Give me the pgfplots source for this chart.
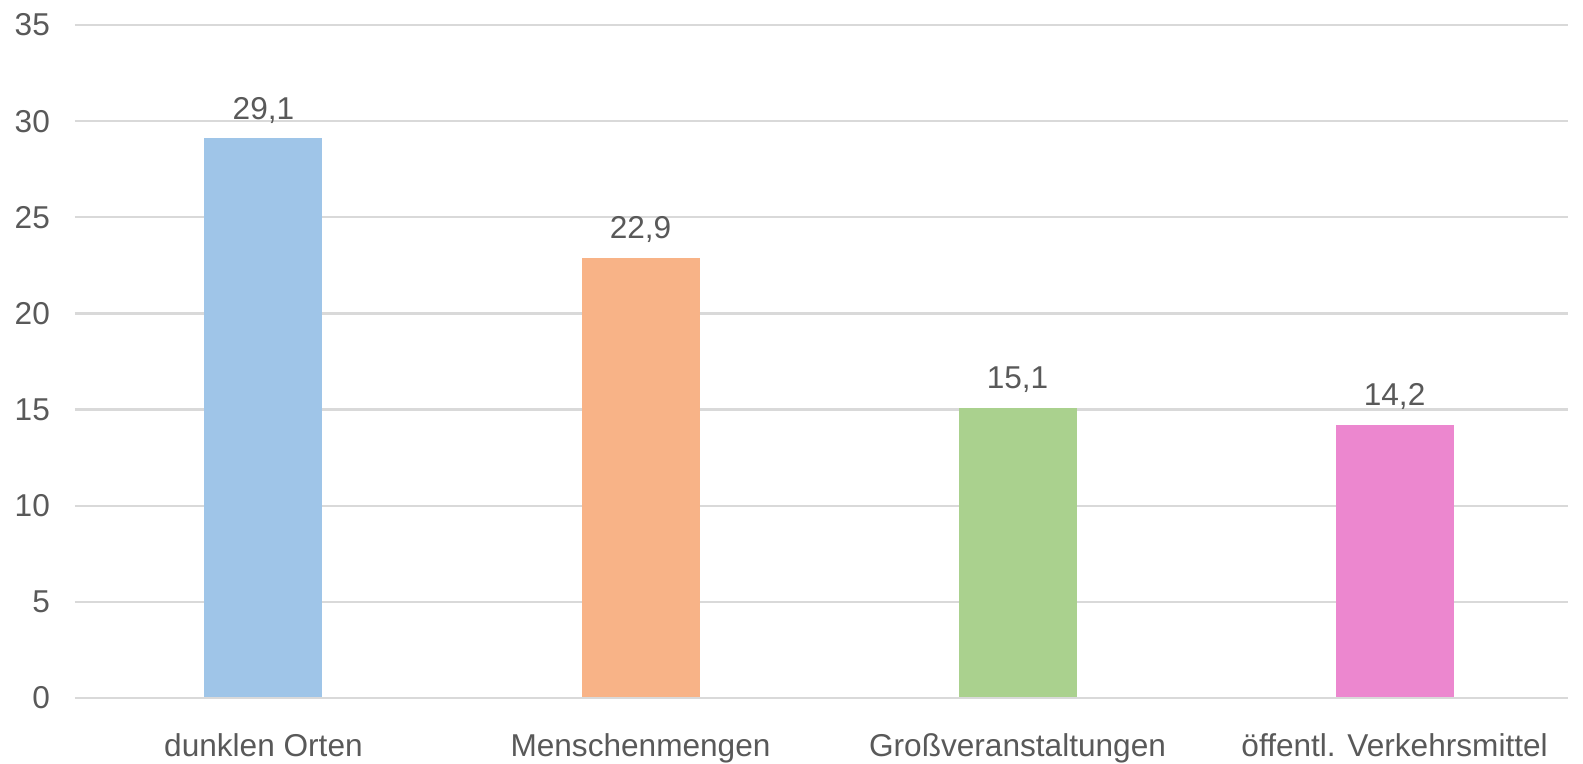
\documentclass[border=0pt]{standalone}
\usepackage{pgfplots}
\pgfplotsset{compat=1.18}
\usepackage{fontspec}
\setmainfont{Liberation Sans}
\definecolor{txt}{HTML}{595959}
\definecolor{grd}{HTML}{D9D9D9}
\definecolor{cblue}{HTML}{9FC5E8}
\definecolor{corange}{HTML}{F8B387}
\definecolor{cgreen}{HTML}{AAD18E}
\definecolor{cpink}{HTML}{EC87CF}
\begin{document}
\begin{tikzpicture}
\begin{axis}[
    scale only axis, width=746.5pt, height=336.5pt,
    xmin=-0.5, xmax=3.46, ymin=0, ymax=35,
    ytick={0,5,...,35}, xtick={0,1,2,3},
    xticklabels={dunklen Orten, Menschenmengen, Großveranstaltungen, öffentl. Verkehrsmittel},
    axis line style={draw=none}, tick style={draw=none},
    ymajorgrids, grid style={grd, line width=1.2pt},
    ticklabel style={font=\fontsize{15.8}{19}\selectfont, text=txt},
    yticklabel style={xshift=-9pt},
    xticklabel style={yshift=-10pt},
    /pgf/number format/assume math mode=true,
    clip=false,
    ybar, bar width=59pt, bar shift=0pt,
    nodes near coords={\pgfmathprintnumber[use comma,fixed,fixed zerofill,precision=1]{\pgfplotspointmeta}},
    nodes near coords style={font=\fontsize{15.8}{19}\selectfont, text=txt, yshift=4pt},
]
\addplot[draw=none, fill=cblue] coordinates {(0,29.1)};
\addplot[draw=none, fill=corange] coordinates {(1,22.9)};
\addplot[draw=none, fill=cgreen] coordinates {(2,15.1)};
\addplot[draw=none, fill=cpink] coordinates {(3,14.2)};
\draw[grd, line width=1.2pt] (axis cs:-0.5,0) -- (axis cs:3.46,0);
\coordinate (bbsw) at (rel axis cs:-0.0502,-0.098);
\coordinate (bbne) at (rel axis cs:1.01005,1.03715);
\end{axis}
\pgfresetboundingbox
\path (bbsw) rectangle (bbne);
\end{tikzpicture}
\end{document}
